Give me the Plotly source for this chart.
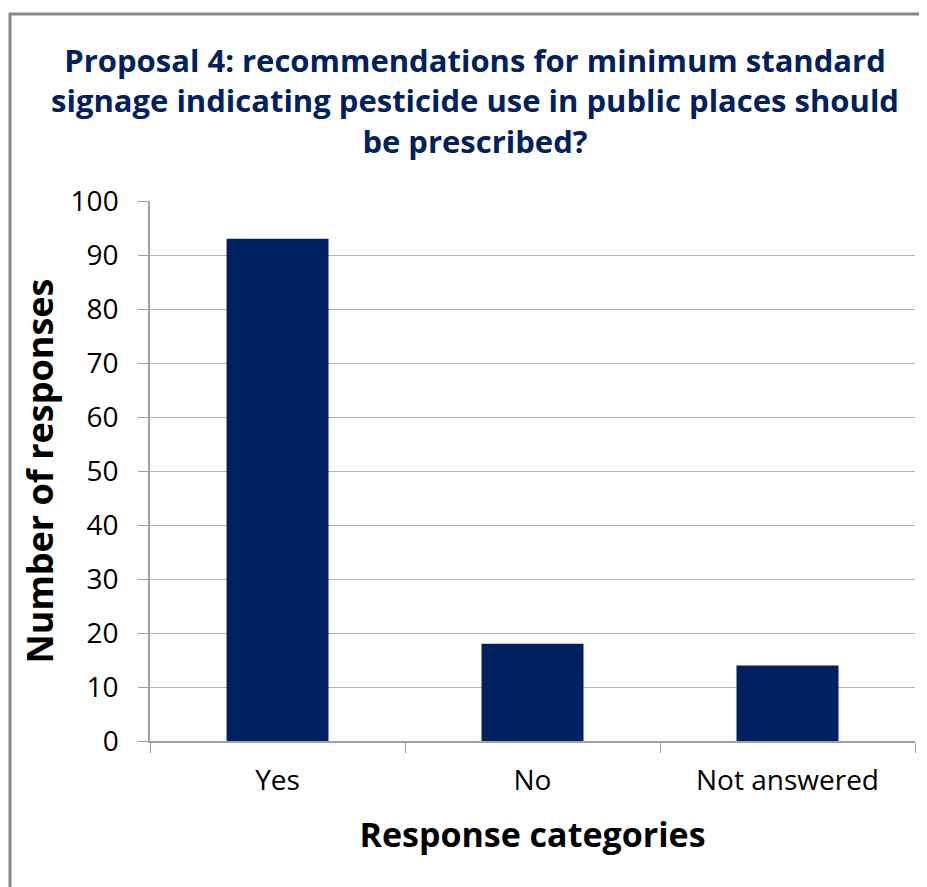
import plotly.graph_objects as go

categories = ["Yes", "No", "Not answered"]
responses = [93, 18, 14]
y_ticks = list(range(0, 101, 10))

title_text = ("Proposal 4: recommendations for minimum standard<br>"
              "signage indicating pesticide use in public places should<br>"
              "be prescribed?")

navy = "#002060"
font_family = "'Open Sans', Lato, sans-serif"

fig = go.Figure(go.Bar(
    x=categories,
    y=responses,
    marker=dict(color=navy, line=dict(width=0)),
    showlegend=False,
))

# page body has an 8px margin, so the figure is drawn 8px in from the window edge
OFF = 8
W, H = 927 - OFF, 887 - OFF
# plot area in window px: x 150..915, y 201..741
L, R, T, B = 150 - OFF, 12, 201 - OFF, 146
pw, ph = W - L - R, H - T - B

def px_x(x):
    return (x - OFF - L) / pw

def px_y(y):
    return (H - B - (y - OFF)) / ph

# outer chart border, cut off at right/bottom like the reference
fig.add_shape(type="rect", xref="paper", yref="paper",
              x0=px_x(10), x1=px_x(945), y0=px_y(905), y1=px_y(14),
              line=dict(color="#878787", width=3), fillcolor="rgba(0,0,0,0)",
              layer="below")

fig.update_layout(
    width=W, height=H,
    margin=dict(l=L, r=R, t=T, b=B),
    paper_bgcolor="white",
    plot_bgcolor="white",
    bargap=0.6,
    title=dict(text=title_text, x=(475 - OFF) / W, xanchor="center",
               y=1 - (72 - OFF) / H, yanchor="middle",
               font=dict(family=font_family, size=31, color=navy, weight="bold")),
    font=dict(family=font_family, color="black"),
)

fig.update_xaxes(
    tickson="boundaries", ticks="outside", ticklen=10, tickcolor="#a0a0a0",
    showline=True, linecolor="#a0a0a0", linewidth=1.5,
    showgrid=False, tickfont=dict(size=28, color="black"),
    ticklabelstandoff=14,
    title=dict(text="Response categories", standoff=26,
               font=dict(size=34, weight="bold", color="black")),
)
fig.update_yaxes(
    range=[0, 100], tickvals=y_ticks, ticks="outside", ticklen=10,
    tickcolor="#a0a0a0", showline=True, linecolor="#a0a0a0", linewidth=1.5,
    showgrid=True, gridcolor="#b4b4b4", gridwidth=1, zeroline=False,
    tickfont=dict(size=28, color="black"), ticklabelstandoff=14,
    title=dict(text="Number of responses", standoff=6,
               font=dict(size=36, weight="bold", color="black")),
)

fig.write_html("out.html")
